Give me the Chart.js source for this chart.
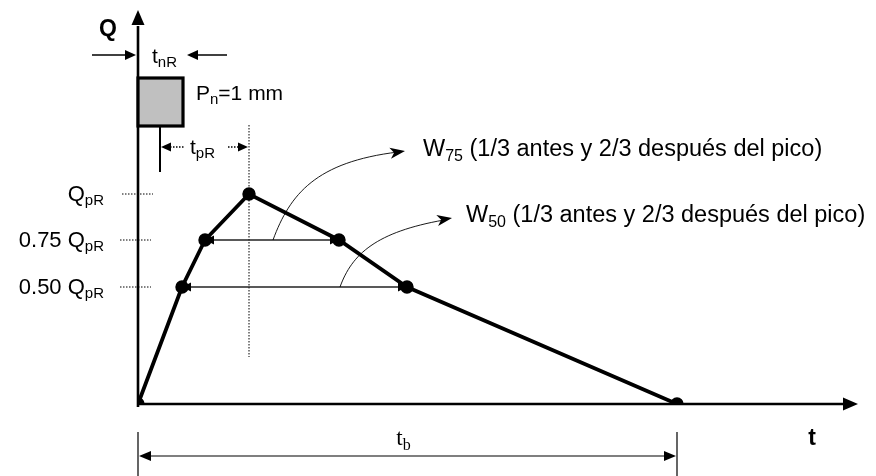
<!DOCTYPE html>
<html><head><meta charset="utf-8">
<script src="https://cdn.jsdelivr.net/npm/chart.js@4"></script>
<style>html,body{margin:0;padding:0;background:#fff}#wrap{width:876px;height:476px}</style>
</head><body><div id="wrap"><canvas id="c" width="876" height="476"></canvas></div>
<script>
// Hydrograph vertices (time, discharge) in drawing units
const times = [0, 44, 67, 111, 201, 269, 539];
const flows = [0, 117, 164, 210, 164, 117, 0];
// Reference discharge levels and their labels
const levelValues = [210, 164, 117];
const levelLabels = [['', 'Q', 'pR'], ['0.75 ', 'Q', 'pR'], ['0.50 ', 'Q', 'pR']];
// Width bands: [level, start time, end time]
const widthBands = [[164, 67, 201], [117, 44, 269]];
const widthLabels = [['W', '75', ' (1/3 antes y 2/3 después del pico)'], ['W', '50', ' (1/3 antes y 2/3 después del pico)']];
// Rainfall pulse: duration tnR and excess Pn
const rainStart = 0, rainEnd = 45, rainLow = 278, rainHigh = 326;
const rainLabel = ['P', 'n', '=1 mm'];
const peakTime = 111, baseTime = 539, rainCentre = 22;

const FONT = '"Liberation Sans", Arial, sans-serif';

function drawLabel(ctx, x, y, pre, main, sub, post, size, align, family) {
  const fam = family || FONT;
  const fMain = size + 'px ' + fam;
  const fSub = Math.round(size * 0.7) + 'px ' + fam;
  ctx.font = fMain;
  const a = ctx.measureText(pre + main).width;
  const c = ctx.measureText(post || '').width;
  ctx.font = fSub;
  const b = ctx.measureText(sub).width;
  const total = a + b + c;
  let sx = align === 'right' ? x - total : align === 'center' ? x - total / 2 : x;
  ctx.textAlign = 'left'; ctx.textBaseline = 'alphabetic'; ctx.fillStyle = '#000';
  ctx.font = fMain; ctx.fillText(pre + main, sx, y);
  ctx.font = fSub; ctx.fillText(sub, sx + a, y + size * 0.2);
  if (post) { ctx.font = fMain; ctx.fillText(post, sx + a + b, y); }
}
function head(ctx, tx, ty, ang, len, half, notch) {
  ctx.save(); ctx.translate(tx, ty); ctx.rotate(ang);
  ctx.beginPath(); ctx.moveTo(0, 0); ctx.lineTo(-len, -half);
  if (notch) ctx.lineTo(-len + notch, 0);
  ctx.lineTo(-len, half); ctx.closePath(); ctx.fillStyle = '#000'; ctx.fill(); ctx.restore();
}

const diagram = {
  id: 'diagram',
  beforeDatasetsDraw(chart) {
    const ctx = chart.ctx, xs = chart.scales.x, ys = chart.scales.y;
    const X = v => xs.getPixelForValue(v), Y = v => ys.getPixelForValue(v);
    ctx.save();
    ctx.strokeStyle = '#000'; ctx.lineCap = 'butt';
    // axes
    ctx.lineWidth = 2.6;
    ctx.beginPath(); ctx.moveTo(X(0), Y(-3)); ctx.lineTo(X(0), Y(378)); ctx.stroke();
    head(ctx, X(0), Y(394), -Math.PI / 2, 15, 6.5);
    ctx.beginPath(); ctx.moveTo(X(0), Y(0)); ctx.lineTo(X(706), Y(0)); ctx.stroke();
    head(ctx, X(720), Y(0), 0, 15, 6.5);
    // axis titles
    ctx.fillStyle = '#000'; ctx.textAlign = 'center'; ctx.textBaseline = 'middle';
    ctx.font = 'bold 23px ' + FONT; ctx.fillText('Q', X(-30), Y(374));
    ctx.fillText('t', X(674), Y(-35));
    // rainfall block
    ctx.fillStyle = '#c0c0c0';
    ctx.fillRect(X(rainStart), Y(rainHigh), X(rainEnd) - X(rainStart), Y(rainLow) - Y(rainHigh));
    ctx.lineWidth = 3.2; ctx.strokeRect(X(rainStart), Y(rainHigh), X(rainEnd) - X(rainStart), Y(rainLow) - Y(rainHigh));
    drawLabel(ctx, X(58), Y(304), '', rainLabel[0], rainLabel[1], rainLabel[2], 21, 'left');
    // tnR arrows
    ctx.lineWidth = 1.6;
    ctx.beginPath(); ctx.moveTo(X(-46), Y(349)); ctx.lineTo(X(-8), Y(349)); ctx.stroke();
    head(ctx, X(-2), Y(349), 0, 11, 5);
    ctx.beginPath(); ctx.moveTo(X(89), Y(349)); ctx.lineTo(X(55), Y(349)); ctx.stroke();
    head(ctx, X(49), Y(349), Math.PI, 11, 5);
    drawLabel(ctx, X(14), Y(341), '', 't', 'nR', '', 21, 'left');
    // centroid line and tpR
    ctx.lineWidth = 2;
    ctx.beginPath(); ctx.moveTo(X(rainCentre), Y(rainLow)); ctx.lineTo(X(rainCentre), Y(232)); ctx.stroke();
    head(ctx, X(rainCentre + 1), Y(257), Math.PI, 10, 4.5);
    head(ctx, X(peakTime - 1), Y(257), 0, 10, 4.5);
    ctx.lineWidth = 1.3; ctx.setLineDash([1.5, 1.5]);
    ctx.beginPath(); ctx.moveTo(X(rainCentre + 10), Y(257)); ctx.lineTo(X(46), Y(257));
    ctx.moveTo(X(90), Y(257)); ctx.lineTo(X(peakTime - 10), Y(257)); ctx.stroke();
    ctx.setLineDash([]);
    drawLabel(ctx, X(52), Y(250), '', 't', 'pR', '', 21, 'left');
    // peak vertical dotted
    ctx.lineWidth = 1; ctx.setLineDash([1.5, 1.5]);
    ctx.beginPath(); ctx.moveTo(X(peakTime), Y(279)); ctx.lineTo(X(peakTime), Y(47)); ctx.stroke();
    // level ticks
    levelValues.forEach((v, i) => {
      ctx.beginPath(); ctx.moveTo(X(i === 0 ? -16 : -18), Y(v)); ctx.lineTo(X(i === 0 ? 15 : 13), Y(v)); ctx.stroke();
    });
    ctx.setLineDash([]);
    levelValues.forEach((v, i) => {
      const l = levelLabels[i];
      drawLabel(ctx, X(-34), Y(v) + 7, l[0], l[1], l[2], '', 22, 'right');
    });
    // width bands
    ctx.strokeStyle = '#222'; ctx.lineWidth = 1.3;
    widthBands.forEach(b => {
      ctx.beginPath(); ctx.moveTo(X(b[1]), Y(b[0])); ctx.lineTo(X(b[2]), Y(b[0])); ctx.stroke();
      head(ctx, X(b[1]), Y(b[0]), Math.PI, 9, 4.5);
      head(ctx, X(b[2]), Y(b[0]), 0, 9, 4.5);
    });
    // leader curves
    ctx.lineWidth = 0.9; ctx.strokeStyle = '#000';
    ctx.beginPath(); ctx.moveTo(X(135), Y(164));
    ctx.bezierCurveTo(X(152), Y(210), X(178), Y(242), X(260), Y(252)); ctx.stroke();
    head(ctx, X(267), Y(253), Math.atan2(-3, 20), 15, 5.5, 4);
    ctx.beginPath(); ctx.moveTo(X(202), Y(117));
    ctx.bezierCurveTo(X(214), Y(150), X(238), Y(172), X(306), Y(184)); ctx.stroke();
    head(ctx, X(314), Y(186), Math.atan2(-3, 18), 15, 5.5, 4);
    drawLabel(ctx, X(285), Y(248), '', widthLabels[0][0], widthLabels[0][1], widthLabels[0][2], 23.5, 'left');
    drawLabel(ctx, X(328), Y(182), '', widthLabels[1][0], widthLabels[1][1], widthLabels[1][2], 23.5, 'left');
    // base time bracket
    ctx.lineWidth = 1.2;
    ctx.beginPath(); ctx.moveTo(X(0), Y(-28)); ctx.lineTo(X(0), Y(-72));
    ctx.moveTo(X(baseTime), Y(-28)); ctx.lineTo(X(baseTime), Y(-72));
    ctx.moveTo(X(8), Y(-52)); ctx.lineTo(X(baseTime - 8), Y(-52)); ctx.stroke();
    head(ctx, X(1), Y(-52), Math.PI, 12, 5);
    head(ctx, X(baseTime - 1), Y(-52), 0, 12, 5);
    drawLabel(ctx, X(baseTime / 2) - 4, Y(-41), '', 't', 'b', '', 23, 'center', '"Liberation Serif", "Times New Roman", serif');
    ctx.restore();
  }
};

new Chart(document.getElementById('c'), {
  type: 'line',
  data: { datasets: [{
    data: times.map((t, i) => ({ x: t, y: flows[i] })),
    borderColor: '#000', borderWidth: 3.8, pointRadius: 4.8,
    pointBackgroundColor: '#000', pointBorderColor: '#000', tension: 0, fill: false
  }] },
  options: {
    responsive: false, animation: false, devicePixelRatio: 1,
    layout: { padding: { left: 138, right: 18, top: 12, bottom: 72 } },
    plugins: { legend: { display: false }, tooltip: { enabled: false } },
    scales: {
      x: { type: 'linear', min: 0, max: 720, display: false },
      y: { type: 'linear', min: 0, max: 392, display: false }
    }
  },
  plugins: [diagram]
});
</script>
</body></html>
